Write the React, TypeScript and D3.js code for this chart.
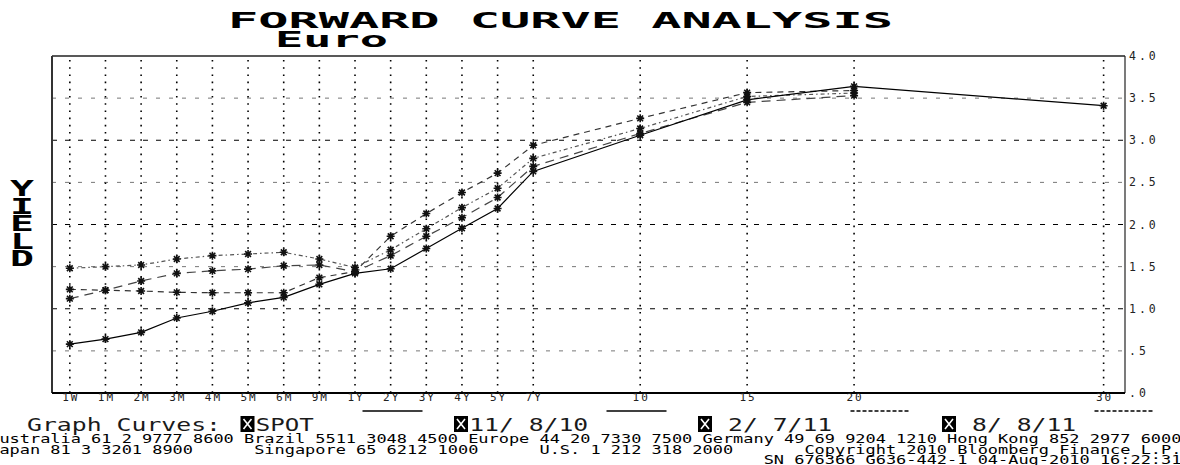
import React from "react";
import * as d3 from "d3";

// ---- data ----
const tenors = ["1W", "1M", "2M", "3M", "4M", "5M", "6M", "9M", "1Y", "2Y", "3Y", "4Y", "5Y", "7Y", "10", "15", "20", "30"];
const tenorSlots = [0, 1, 2, 3, 4, 5, 6, 7, 8, 9, 10, 11, 12, 13, 16, 19, 22, 29];
const spotCurve = [0.58, 0.64, 0.72, 0.89, 0.97, 1.07, 1.135, 1.29, 1.42, 1.475, 1.715, 1.955, 2.19, 2.63, 3.06, 3.48, 3.64, 3.41];
const fwdNov10 = [1.12, 1.22, 1.33, 1.42, 1.45, 1.47, 1.51, 1.52, 1.44, 1.63, 1.86, 2.08, 2.32, 2.69, 3.08, 3.45, 3.53, null];
const fwdFeb11 = [1.48, 1.5, 1.52, 1.59, 1.63, 1.65, 1.67, 1.59, 1.49, 1.7, 1.95, 2.2, 2.43, 2.785, 3.14, 3.52, 3.56, null];
const fwdAug11 = [1.23, 1.22, 1.21, 1.195, 1.19, 1.19, 1.19, 1.37, 1.44, 1.86, 2.13, 2.38, 2.61, 2.94, 3.26, 3.565, 3.59, null];
const seriesNames = ["SPOT", "11/ 8/10", " 2/ 7/11", " 8/ 8/11"];
const yTicks = [0, 0.5, 1, 1.5, 2, 2.5, 3, 3.5, 4];
const yTickLabels = [".0", ".5", "1.0", "1.5", "2.0", "2.5", "3.0", "3.5", "4.0"];
const titleText = "FORWARD CURVE ANALYSIS";
const subtitleText = "Euro";
const yAxisTitle = ["Y", "I", "E", "L", "D"];
const legendTitle = "Graph Curves:";
const footerLines = [
  "Australia 61 2 9777 8600 Brazil 5511 3048 4500 Europe 44 20 7330 7500 Germany 49 69 9204 1210 Hong Kong 852 2977 6000",
  "Japan 81 3 3201 8900      Singapore 65 6212 1000      U.S. 1 212 318 2000       Copyright 2010 Bloomberg Finance L.P.",
  "                                                                            SN 676366 G636-442-1 04-Aug-2010 16:22:31",
];

const W = 1180;
const H = 465;
const plot = { left: 52, right: 1125, top: 56, bottom: 393 };

const x = d3.scaleLinear().domain([-0.5, 29.6]).range([plot.left, plot.right]);
const y = d3.scaleLinear().domain([0, 4]).range([plot.bottom, plot.top]);

const series = [
  { name: seriesNames[0], values: spotCurve, dash: "none", color: "#000", width: 1.2 },
  { name: seriesNames[1], values: fwdNov10, dash: "9,6", color: "#444", width: 1.2 },
  { name: seriesNames[2], values: fwdFeb11, dash: "4,3,1.5,3", color: "#555", width: 1.2 },
  { name: seriesNames[3], values: fwdAug11, dash: "6,5", color: "#333", width: 1.2 },
];
const legendDash = ["none", "none", "4,2", "4,2"];

function asterisk(cx: number, cy: number, r: number) {
  const d = r * 0.72;
  return `M${cx - r},${cy}h${2 * r}M${cx},${cy - r}v${2 * r}M${cx - d},${cy - d}l${2 * d},${2 * d}M${cx - d},${cy + d}l${2 * d},${-2 * d}`;
}

const mono = "'DejaVu Sans Mono', 'Liberation Mono', monospace";

export default function App() {
  const lineGen = d3
    .line<number | null>()
    .defined((v) => v !== null)
    .x((_, i) => x(tenorSlots[i]))
    .y((v) => y(v as number));

  const footPitch = 10.19;
  const legCol = (c: number) => 27 + c * 15.25;
  const legendItems = [
    { col: 14, lineCol: 22 },
    { col: 28, lineCol: 38 },
    { col: 44, lineCol: 54 },
    { col: 60, lineCol: 70 },
  ];

  return (
    <svg
      width={W}
      height={H}
      style={{ position: "absolute", left: 0, top: 0, background: "#fff" }}
      xmlns="http://www.w3.org/2000/svg"
    >
      <rect x={0} y={0} width={W} height={H} fill="#fff" />
      {/* title */}
      <text x={228} y={28} fontFamily={mono} fontWeight="bold" fontSize={22} textLength={665} lengthAdjust="spacingAndGlyphs" fill="#000">
        {titleText}
      </text>
      <text x={275} y={47} fontFamily={mono} fontWeight="bold" fontSize={22} textLength={113} lengthAdjust="spacingAndGlyphs" fill="#000">
        {subtitleText}
      </text>

      {/* YIELD */}
      {yAxisTitle.map((ch, i) => (
        <text key={ch + i} x={10} y={196 + i * 17.5} fontFamily={mono} fontWeight="bold" fontSize={22} textLength={24} lengthAdjust="spacingAndGlyphs" fill="#000">
          {ch}
        </text>
      ))}

      {/* horizontal grid */}
      {yTicks.slice(1, -1).map((t) => (
        <line
          key={"h" + t}
          x1={plot.left}
          x2={plot.right}
          y1={y(t)}
          y2={y(t)}
          stroke={t % 1 === 0 ? "#000" : "#777"}
          strokeWidth={1}
          strokeDasharray={t % 1 === 0 ? "5,8" : "4,9"}
        />
      ))}
      {/* vertical grid */}
      {tenorSlots.map((s, i) => (
        <line
          key={"v" + i}
          x1={x(s)}
          x2={x(s)}
          y1={plot.top + 4}
          y2={plot.bottom}
          stroke="#000"
          strokeWidth={1.6}
          strokeDasharray="1.6,5.6"
        />
      ))}

      {/* series lines, forwards first */}
      {series
        .slice()
        .reverse()
        .map((s) => (
          <path
            key={"l" + s.name}
            d={lineGen(s.values) || ""}
            fill="none"
            stroke={s.color}
            strokeWidth={s.width}
            strokeDasharray={s.dash}
          />
        ))}
      {/* markers */}
      {series.map((s) =>
        s.values.map((v, i) =>
          v === null ? null : (
            <path key={"m" + s.name + i} d={asterisk(x(tenorSlots[i]), y(v), 4)} stroke="#111" strokeWidth={1.6} fill="none" />
          )
        )
      )}

      {/* frame */}
      <line x1={plot.left} x2={plot.right} y1={plot.top} y2={plot.top} stroke="#222" strokeWidth={1.5} />
      <line x1={plot.right} x2={plot.right} y1={plot.top} y2={plot.bottom} stroke="#222" strokeWidth={1.2} />
      <line x1={plot.left} x2={plot.left} y1={plot.top} y2={plot.bottom} stroke="#333" strokeWidth={2} />
      <line x1={plot.left} x2={plot.right} y1={plot.bottom} y2={plot.bottom} stroke="#000" strokeWidth={2} />

      {/* y tick labels (right) */}
      {yTicks.map((t, i) => (
        <text key={"yt" + t} x={1129} y={y(t) + 4} fontFamily={mono} fontSize={11.5} letterSpacing={3} fill="#222">
          {yTickLabels[i]}
        </text>
      ))}
      {/* x tick labels */}
      {tenors.map((t, i) => (
        <text key={"xt" + t} x={x(tenorSlots[i]) + 1} y={401} textAnchor="middle" fontFamily={mono} fontSize={11} letterSpacing={2} fill="#222">
          {t}
        </text>
      ))}

      {/* legend */}
      <text x={legCol(0)} y={431} fontFamily={mono} fontSize={17} textLength={194} lengthAdjust="spacingAndGlyphs" fill="#1a1a1a">
        {legendTitle}
      </text>
      {series.map((s, i) => {
        const it = legendItems[i];
        const bx = legCol(it.col);
        const label = s.name;
        return (
          <g key={"lg" + i}>
            <rect x={bx} y={416} width={14} height={16} fill="#000" />
            <path d={`M${bx + 3},${419}L${bx + 11},${429}M${bx + 11},${419}L${bx + 3},${429}`} stroke="#fff" strokeWidth={1.6} />
            <text
              x={legCol(it.col + 1)}
              y={431}
              fontFamily={mono}
              fontSize={17}
              textLength={label.length * 15.25 - 3}
              lengthAdjust="spacingAndGlyphs"
              fill="#1a1a1a"
              style={{ whiteSpace: "pre" }}
            >
              {label}
            </text>
            <line
              x1={legCol(it.lineCol)}
              x2={legCol(it.lineCol) + 60}
              y1={411}
              y2={411}
              stroke="#000"
              strokeWidth={1.4}
              strokeDasharray={legendDash[i]}
            />
          </g>
        );
      })}

      {/* footer */}
      {footerLines.map((ln, i) => (
        <text
          key={"f" + i}
          x={-10.8}
          y={443 + i * 10.7}
          fontFamily={mono}
          fontSize={11.5}
          textLength={ln.length * footPitch}
          lengthAdjust="spacingAndGlyphs"
          fill="#000"
          style={{ whiteSpace: "pre" }}
        >
          {ln}
        </text>
      ))}
    </svg>
  );
}
